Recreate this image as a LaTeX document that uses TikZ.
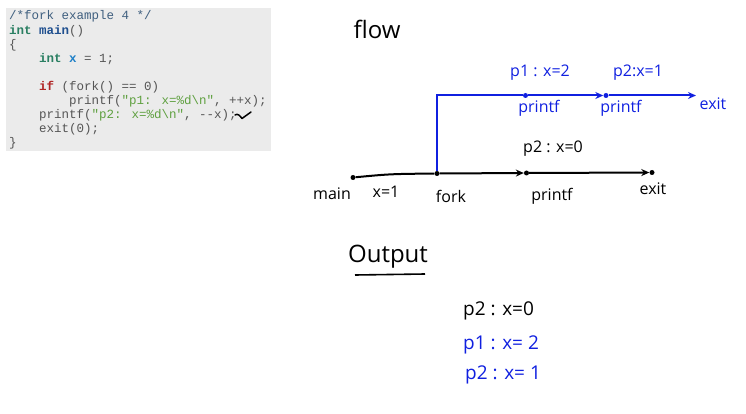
\documentclass[tikz,border=0pt]{standalone}
\usepackage{fontspec}
\newfontfamily\codefont{Liberation Mono}
\newfontfamily\handfont{Open Sans}
\usetikzlibrary{arrows.meta}
\definecolor{codebg}{HTML}{EBEBEB}
\definecolor{cplain}{HTML}{555555}
\definecolor{ccomment}{HTML}{3F5F7F}
\definecolor{ckw}{HTML}{2A7F62}
\definecolor{cfunc}{HTML}{1F4F8F}
\definecolor{cvar}{HTML}{1E80C8}
\definecolor{cif}{HTML}{B02525}
\definecolor{cstr}{HTML}{5FA040}
\definecolor{penblue}{HTML}{1020E0}
\begin{document}
\begin{tikzpicture}[x=1pt,y=-1pt,
  codeline/.style={anchor=base west,inner sep=0pt,font=\codefont\fontsize{12.5}{14}\selectfont,text=cplain},
  hand/.style={inner sep=0pt,font=\handfont\fontsize{16}{18}\selectfont},
  big/.style={inner sep=0pt,font=\handfont\fontsize{24}{28}\selectfont},
  outl/.style={inner sep=0pt,anchor=west,font=\handfont\fontsize{19}{22}\selectfont},
  dotb/.style={circle,fill=black,inner sep=0pt,minimum size=5pt},
  dotbl/.style={circle,fill=penblue,inner sep=0pt,minimum size=5pt},
  blk/.style={line width=2pt,black},
  blu/.style={line width=2pt,penblue},
  tip/.style={-{Stealth[length=8pt,width=7pt]}}]
\useasboundingbox (0,0) rectangle (746,414);
% code box
\fill[codebg] (6,8) rectangle (271,151);
\node[codeline,text=ccomment] (l1) at (9,20) {/*fork example 4 */};
\node[codeline] (l2) at (9,34.1) {\textcolor{ckw}{\bfseries int} \textcolor{cfunc}{\bfseries main}()};
\node[codeline] (l3) at (9,48.2) {\{};
\node[codeline] (l4) at (9,62.3) {\phantom{xxxx}\textcolor{ckw}{\bfseries int} \textcolor{cvar}{\bfseries x} = 1;};
\node[codeline] (l6) at (9,90.5) {\phantom{xxxx}\textcolor{cif}{\bfseries if} (fork() == 0)};
\node[codeline] (l7) at (9,104.6) {\phantom{xxxxxxxx}printf(\textcolor{cstr}{"p1: x=\%d\textbackslash n"}, ++x);};
\node[codeline] (l8) at (9,118.7) {\phantom{xxxx}printf(\textcolor{cstr}{"p2: x=\%d\textbackslash n"}, {-}{-}x);};
\node[codeline] (l9) at (9,132.8) {\phantom{xxxx}exit(0);};
\node[codeline] (l10) at (9,146.9) {\}};
% check mark
\draw[line width=1.5pt,line cap=round,line join=round] (235,115) .. controls (238,113) and (240,116) .. (242,118.5) -- (251,112);
% flow title
\node[big] (flow) at (377,29) {flow};
% nodes
\node[dotb] (main) at (353,177.5) {};
\node[dotb] (fork) at (437,173.5) {};
\node[dotb] (pr0) at (526.5,173) {};
\node[dotb] (ex0) at (652,172.5) {};
\coordinate (corner) at (437,95.5);
\node[dotbl] (pr1) at (525.5,95.5) {};
\node[dotbl] (pr2) at (606,95.5) {};
\coordinate (ex1) at (696,95.5);
% connectors
\draw[blk] (main) .. controls (390,174) .. (fork);
\draw[blk,tip] (fork) -- (pr0);
\draw[blk,tip] (pr0) -- (ex0);
\draw[blu] (fork) -- (corner) -- (pr1);
\draw[blu,tip] (pr1) -- (pr2);
\draw[blu,tip] (pr2) -- (ex1);
% labels
\node[hand] (lmain) at (332,194) {main};
\node[hand] (lx1) at (386,192) {x=1};
\node[hand] (lfork) at (451,196) {fork};
\node[hand] (lpr0) at (552,196) {printf};
\node[hand] (lex0) at (653,189) {exit};
\node[hand] (lp20) at (553,149) {p2 : x=0};
\node[hand,text=penblue] (lp12) at (540,73) {p1 : x=2};
\node[hand,text=penblue] (lp21) at (638,73) {p2:x=1};
\node[hand,text=penblue] (lpr1) at (539,108) {printf};
\node[hand,text=penblue] (lpr2) at (621,108) {printf};
\node[hand,text=penblue] (lex1) at (713,104) {exit};
% output
\node[big] (out) at (388,257) {Output};
\draw[line width=1.6pt] (355,275) -- (425,274);
\node[outl] (o1) at (463,311) {p2 : x=0};
\node[outl,text=penblue] (o2) at (463,345) {p1 : x= 2};
\node[outl,text=penblue] (o3) at (465,375) {p2 : x= 1};
\end{tikzpicture}
\end{document}
